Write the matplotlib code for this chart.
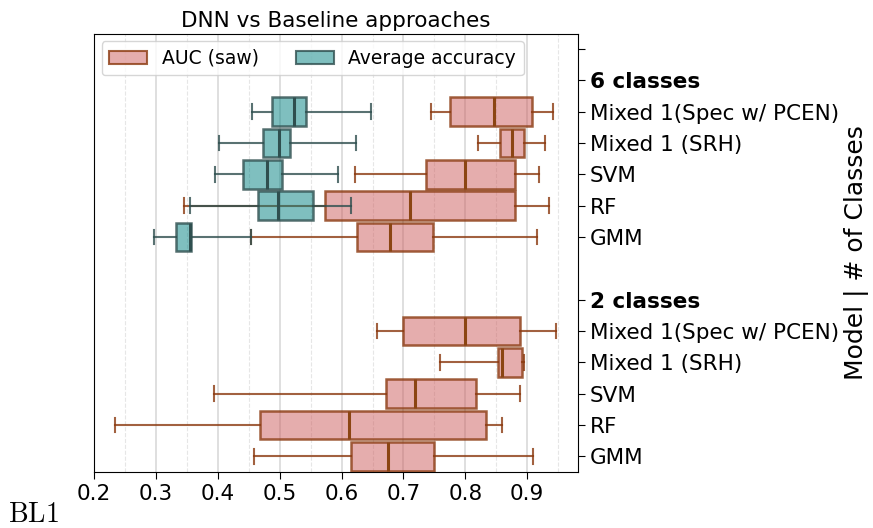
import matplotlib
matplotlib.use("Agg")
import matplotlib.pyplot as plt
from matplotlib.patches import Patch
from matplotlib.ticker import MultipleLocator
from matplotlib.colors import to_rgba

# ---- data ----
tick_labels = ["", "6 classes", "Mixed 1(Spec w/ PCEN)", "Mixed 1 (SRH)", "SVM", "RF", "GMM",
               "2 classes", "Mixed 1(Spec w/ PCEN)", "Mixed 1 (SRH)", "SVM", "RF", "GMM"]
tick_pos = [0, 1, 2, 3, 4, 5, 6, 8, 9, 10, 11, 12, 13]

# AUC (saw): [whislo, q1, med, q3, whishi]
auc_pos = [2, 3, 4, 5, 6, 9, 10, 11, 12, 13]
auc_lo  = [0.744, 0.821, 0.621, 0.346, 0.454, 0.657, 0.759, 0.394, 0.234, 0.458]
auc_q1  = [0.775, 0.856, 0.737, 0.574, 0.625, 0.700, 0.853, 0.672, 0.469, 0.616]
auc_med = [0.847, 0.876, 0.799, 0.711, 0.679, 0.800, 0.859, 0.719, 0.612, 0.675]
auc_q3  = [0.908, 0.895, 0.880, 0.880, 0.747, 0.889, 0.891, 0.818, 0.834, 0.749]
auc_hi  = [0.942, 0.928, 0.919, 0.935, 0.916, 0.946, 0.895, 0.889, 0.860, 0.909]

# Average accuracy (6 classes only)
acc_pos = [2, 3, 4, 5, 6]
acc_lo  = [0.455, 0.402, 0.396, 0.355, 0.297]
acc_q1  = [0.487, 0.473, 0.440, 0.465, 0.333]
acc_med = [0.523, 0.499, 0.480, 0.497, 0.355]
acc_q3  = [0.543, 0.517, 0.503, 0.554, 0.357]
acc_hi  = [0.648, 0.624, 0.594, 0.616, 0.454]

plt.rcParams['mathtext.fontset'] = 'cm'

fig = plt.figure(figsize=(8.73, 5.28), dpi=100)
ax = fig.add_axes([94/873, 1-472/528, (578-94)/873, (472-34)/528])

def stats(lo, q1, med, q3, hi):
    return [dict(whislo=a, q1=b, med=c, q3=d, whishi=e, fliers=[])
            for a, b, c, d, e in zip(lo, q1, med, q3, hi)]

def draw(st, pos, face, edge, med):
    ax.bxp(st, positions=pos, vert=False, widths=0.92, patch_artist=True,
           showfliers=False, manage_ticks=False,
           boxprops=dict(facecolor=face, edgecolor=edge, linewidth=1.8),
           whiskerprops=dict(color=edge, linewidth=1.5),
           capprops=dict(color=edge, linewidth=1.5),
           medianprops=dict(color=med, linewidth=2.2), zorder=3)

pink_face = to_rgba('#cd5c5c', 0.5)
teal_face = to_rgba('#008080', 0.5)
pink_edge = to_rgba('#8b3a10', 0.8)
teal_edge = to_rgba('#2f4f4f', 0.8)
draw(stats(auc_lo, auc_q1, auc_med, auc_q3, auc_hi), auc_pos, pink_face, pink_edge, '#8b4513')
draw(stats(acc_lo, acc_q1, acc_med, acc_q3, acc_hi), acc_pos, teal_face, teal_edge, '#2f4f4f')

ax.set_xlim(0.2, 0.982)
ax.set_ylim(13.5, -0.48)
ax.xaxis.set_major_locator(MultipleLocator(0.1))
ax.xaxis.set_minor_locator(MultipleLocator(0.05))
ax.set_xticks([0.2, 0.3, 0.4, 0.5, 0.6, 0.7, 0.8, 0.9])
ax.set_xticklabels(["0.2", "0.3", "0.4", "0.5", "0.6", "0.7", "0.8", "0.9"])
ax.grid(True, which='major', axis='x', color='#d9d9d9', linewidth=1.2, zorder=0)
ax.grid(True, which='minor', axis='x', color='#e6e6e6', linewidth=0.8, linestyle='--', zorder=0)
ax.set_axisbelow(True)
ax.tick_params(axis='x', which='minor', length=0)

ax.set_yticks(tick_pos)
ax.set_yticklabels(tick_labels)
ax.yaxis.tick_right()
ax.yaxis.set_label_position('right')
for lbl in ax.get_yticklabels():
    if 'classes' in lbl.get_text():
        lbl.set_fontweight('bold')
ax.tick_params(axis='both', labelsize=15.5, length=5)
ax.set_ylabel("Model | # of Classes", fontsize=18, labelpad=4)
ax.set_title("DNN vs Baseline approaches", fontsize=15.5, pad=5)

handles = [Patch(facecolor=pink_face, edgecolor=pink_edge, linewidth=1.5, label='AUC (saw)'),
           Patch(facecolor=teal_face, edgecolor=teal_edge, linewidth=1.5, label='Average accuracy')]
ax.legend(handles=handles, loc='upper left', ncol=2, fontsize=13.5, handlelength=2.0,
          columnspacing=2.0, borderaxespad=0.4)

fig.text(8/873, 1-522/528, r'$\mathrm{BL1}$', fontsize=20, va='baseline', ha='left')

fig.savefig('out.png', dpi=100)
